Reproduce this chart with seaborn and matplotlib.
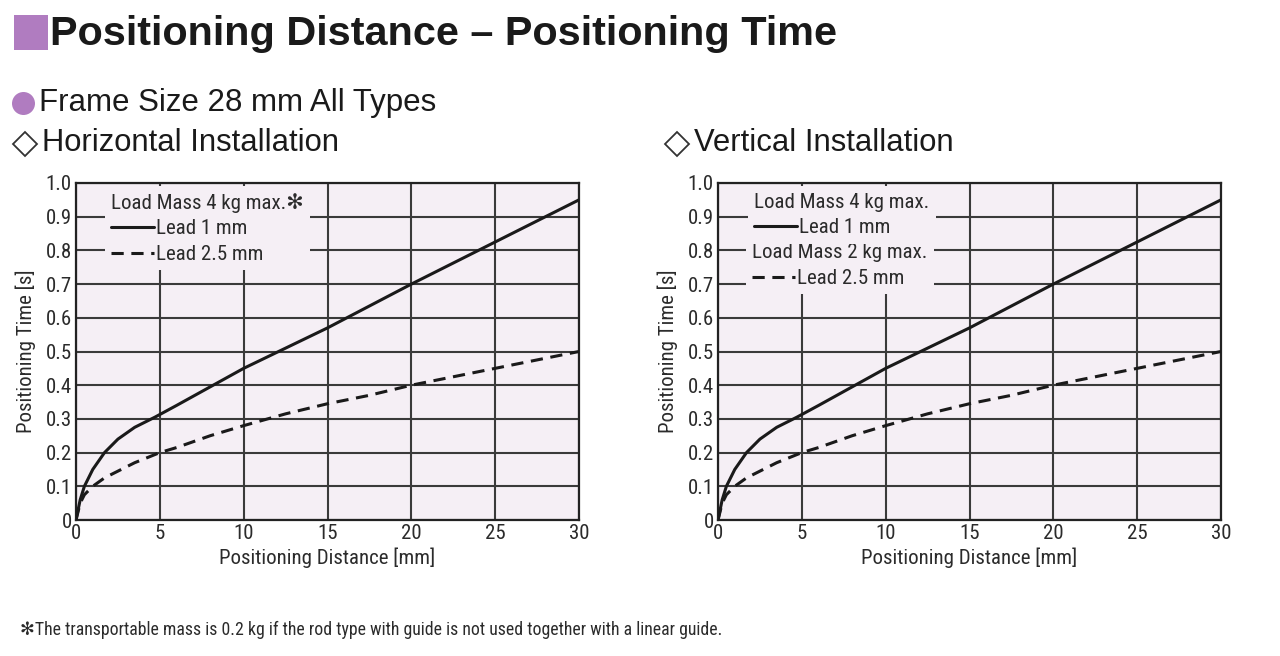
import matplotlib
matplotlib.use("Agg")
import matplotlib.pyplot as plt
import pandas as pd
import seaborn as sns
from matplotlib.lines import Line2D
from matplotlib.patches import Rectangle, Ellipse, Polygon

# ---- data ----
distance_lead1 = [0, 0.25, 0.5, 1, 1.7, 2.5, 3.5, 4.7, 6, 8, 10, 12.5, 15, 17.5, 20, 25, 30]
time_lead1 = [0, 0.06, 0.10, 0.15, 0.20, 0.24, 0.275, 0.305, 0.34, 0.395, 0.45, 0.51, 0.57, 0.635, 0.70, 0.825, 0.95]
distance_lead25 = [0, 0.25, 0.5, 1, 1.7, 2.5, 3.5, 5, 6, 8, 10, 12.5, 15, 17.5, 20, 25, 30]
time_lead25 = [0, 0.05, 0.075, 0.10, 0.125, 0.145, 0.17, 0.20, 0.215, 0.25, 0.28, 0.315, 0.345, 0.37, 0.40, 0.45, 0.50]
x_ticks = [0, 5, 10, 15, 20, 25, 30]
y_ticks = [0, 0.1, 0.2, 0.3, 0.4, 0.5, 0.6, 0.7, 0.8, 0.9, 1.0]
y_tick_labels = ["0", "0.1", "0.2", "0.3", "0.4", "0.5", "0.6", "0.7", "0.8", "0.9", "1.0"]

W, H = 1280, 656
sns.set_theme(style="white")
plt.rcParams['font.family'] = ['Roboto Condensed', 'DejaVu Sans']
TXT = "#2b2b2b"
PURPLE = "#b07cc0"
BG = "#f5eff5"
GRID = "#3a3a3a"
FS = 15
HEAD = ["Liberation Sans", "DejaVu Sans"]

fig = plt.figure(figsize=(W / 100, H / 100), dpi=100)

def fx(px):
    return px / W

def fy(py):
    return 1 - py / H

df1 = pd.DataFrame({"x": distance_lead1, "y": time_lead1})
df2 = pd.DataFrame({"x": distance_lead25, "y": time_lead25})
DASH = (0, (4.0, 2.5))

def make_axes(left_px):
    ax = fig.add_axes([fx(left_px), fy(520), (503) / W, (520 - 183) / H])
    ax.set_facecolor(BG)
    sns.lineplot(data=df1, x="x", y="y", ax=ax, color="#1a1a1a", lw=2.2, zorder=3)
    sns.lineplot(data=df2, x="x", y="y", ax=ax, color="#1a1a1a", lw=2.2,
                 linestyle=DASH, zorder=3)
    ax.set_xlim(0, 30)
    ax.set_ylim(0, 1.0)
    ax.set_xticks(x_ticks)
    ax.set_yticks(y_ticks)
    ax.set_yticklabels(y_tick_labels)
    ax.grid(True, color=GRID, lw=1.5, zorder=1)
    ax.set_axisbelow(True)
    for s in ax.spines.values():
        s.set_color("#222222")
        s.set_linewidth(1.6)
    ax.tick_params(axis="both", labelsize=FS, colors=TXT, length=0, pad=3)
    ax.set_xlabel("Positioning Distance [mm]", fontsize=FS, color=TXT, labelpad=3)
    ax.set_ylabel("Positioning Time [s]", fontsize=FS, color=TXT, labelpad=7)
    return ax

axL = make_axes(76)
axR = make_axes(718)

solid = Line2D([], [], color="#1a1a1a", lw=2.2)
dashed = Line2D([], [], color="#1a1a1a", lw=2.2, linestyle=DASH)

def add_legend(ax, handles, labels, title, anchor):
    leg = ax.legend(handles, labels, title=title, loc="upper left",
                    bbox_to_anchor=anchor, borderaxespad=0, frameon=True,
                    facecolor=BG, edgecolor="none", framealpha=1, fancybox=False,
                    fontsize=FS, title_fontsize=FS, handlelength=2.05,
                    handletextpad=0.1, labelspacing=0.32, borderpad=0.3,
                    labelcolor=TXT, alignment="left")
    leg.get_title().set_color(TXT)
    leg.set_zorder(5)
    return leg

add_legend(axL, [solid, dashed], ["Lead 1 mm", "Lead 2.5 mm"],
           "Load Mass 4 kg max.\u273B", (0.058, 0.99))

legR2 = add_legend(axR, [dashed], ["Lead 2.5 mm"], "Load Mass 2 kg max.", (0.055, 0.84))
axR.add_artist(legR2)
add_legend(axR, [solid], ["Lead 1 mm"], "Load Mass 4 kg max.", (0.06, 0.99))

# ---- headings ----
fig.patches.append(Rectangle((fx(14), fy(50)), fx(34), 35 / H, transform=fig.transFigure,
                             facecolor=PURPLE, edgecolor="none"))
fig.text(fx(50), fy(34), "Positioning Distance \u2013 Positioning Time", fontsize=29.8,
         fontweight="bold", family=HEAD, color="#1a1a1a", va="center", ha="left")

fig.patches.append(Ellipse((fx(23.5), fy(103.5)), 23 / W, 23 / H, transform=fig.transFigure,
                           facecolor=PURPLE, edgecolor="none"))
fig.text(fx(39), fy(103), "Frame Size 28 mm All Types", fontsize=22.5,
         family=HEAD, color="#1a1a1a", va="center", ha="left")

def diamond(cx, cy, r):
    pts = [(fx(cx), fy(cy - r)), (fx(cx + r), fy(cy)), (fx(cx), fy(cy + r)), (fx(cx - r), fy(cy))]
    fig.patches.append(Polygon(pts, closed=True, transform=fig.transFigure,
                               facecolor="white", edgecolor="#333333", lw=1.3))

diamond(25, 144, 12)
fig.text(fx(42), fy(143), "Horizontal Installation", fontsize=22.3,
         family=HEAD, color="#1a1a1a", va="center", ha="left")
diamond(677, 144, 12)
fig.text(fx(694), fy(143), "Vertical Installation", fontsize=22.3,
         family=HEAD, color="#1a1a1a", va="center", ha="left")

fig.text(fx(20), fy(630), "\u273BThe transportable mass is 0.2 kg if the rod type with guide is not used together with a linear guide.",
         fontsize=12.8, color=TXT, va="center", ha="left")

fig.savefig("out.png", dpi=100, facecolor="white")
